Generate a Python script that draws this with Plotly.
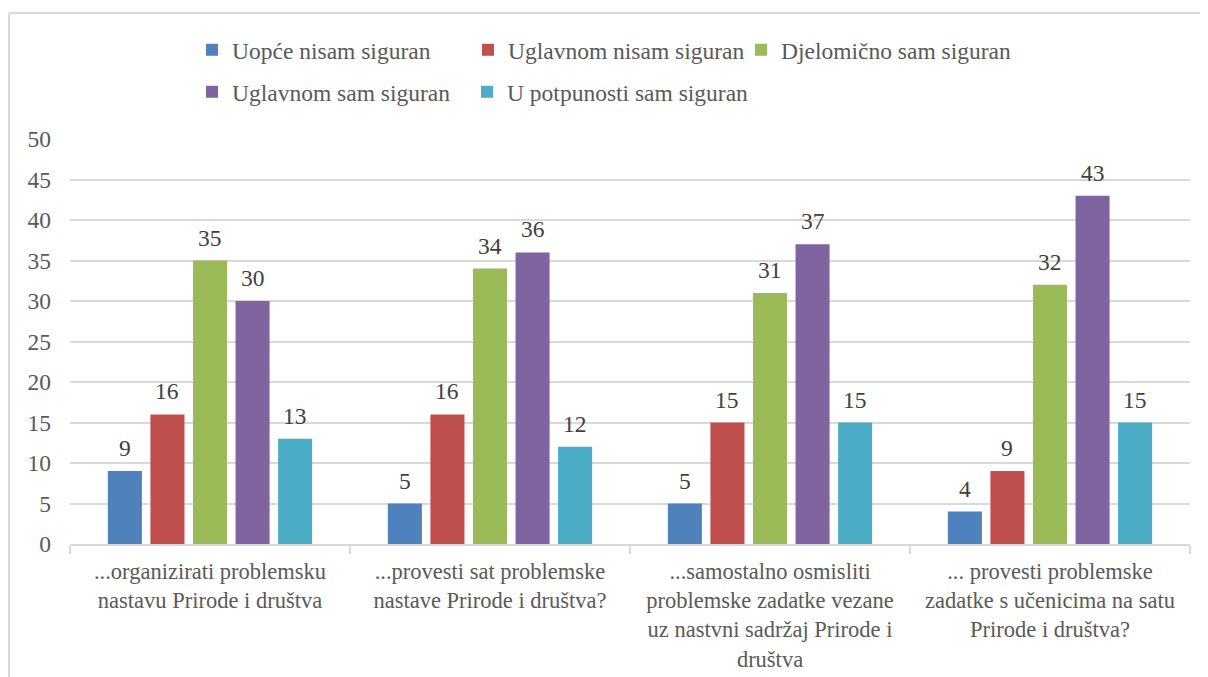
import plotly.graph_objects as go

categories = [
    "...organizirati problemsku<br>nastavu Prirode i društva",
    "...provesti sat problemske<br>nastave Prirode i društva?",
    "...samostalno osmisliti<br>problemske zadatke vezane<br>uz nastvni sadržaj Prirode i<br>društva",
    "... provesti problemske<br>zadatke s učenicima na satu<br>Prirode i društva?",
]
series_names = [
    "Uopće nisam siguran",
    "Uglavnom nisam siguran",
    "Djelomično sam siguran",
    "Uglavnom sam siguran",
    "U potpunosti sam siguran",
]
uopce = [9, 5, 5, 4]
uglavnom_nisam = [16, 16, 15, 9]
djelomicno = [35, 34, 31, 32]
uglavnom_sam = [30, 36, 37, 43]
potpuno = [13, 12, 15, 15]
series_values = [uopce, uglavnom_nisam, djelomicno, uglavnom_sam, potpuno]
colors = ["#4F81BD", "#C0504D", "#9BBB59", "#8064A2", "#4BACC6"]
y_ticks = [0, 5, 10, 15, 20, 25, 30, 35, 40, 45, 50]

FONT = "Liberation Serif"
FS = 23.5
FS_X = 22.5
OFF = 8  # page body margin

W, H = 1208 - OFF, 677 - OFF
L, R, T, B = 70 - OFF, 18, 139 - OFF, 133
pw, ph = W - L - R, H - T - B
BARGAP = 0.24
BARGROUPGAP = 0.2


def px(x):
    return (x - OFF - L) / pw


def py(y):
    return (H - B - (y - OFF)) / ph


# legend slot (page px) for each series: (left x, row centre y)
legend_slots = [(192, 50), (468, 50), (741, 50), (192, 92), (467, 92)]
legend_keys = ["legend", "legend2", "legend3", "legend4", "legend5"]

fig = go.Figure()
pitch = (pw / len(categories)) * (1 - BARGAP) / len(series_names)
annotations = []
for i, (name, vals, col) in enumerate(zip(series_names, series_values, colors)):
    fig.add_trace(go.Bar(
        x=categories, y=vals, name=name,
        marker=dict(color=col, line=dict(width=0)),
        legend=legend_keys[i], showlegend=True,
        hoverinfo="name+y",
    ))
    for c, v in zip(categories, vals):
        annotations.append(dict(
            x=c, y=v, xref="x", yref="y", text=str(v), showarrow=False,
            xshift=(i - (len(series_names) - 1) / 2) * pitch,
            yanchor="middle", yshift=23,
            font=dict(family=FONT, size=FS, color="#404040"),
        ))

legends = {}
for key, (lx, ly) in zip(legend_keys, legend_slots):
    legends[key] = dict(
        x=px(lx), y=py(ly), xanchor="left", yanchor="middle",
        orientation="h", visible=True,
        font=dict(family=FONT, size=FS, color="#595959"),
        bgcolor="rgba(0,0,0,0)",
        itemclick=False, itemdoubleclick=False,
    )

fig.update_layout(
    width=W, height=H, showlegend=True,
    margin=dict(l=L, r=R, t=T, b=B, autoexpand=False),
    paper_bgcolor="white", plot_bgcolor="white",
    barmode="group", bargap=BARGAP, bargroupgap=BARGROUPGAP,
    font=dict(family=FONT, size=FS, color="#595959"),
    annotations=annotations,
    xaxis=dict(
        type="category", showgrid=False, automargin=False,
        showline=True, linecolor="#D9D9D9", linewidth=1.5,
        ticks="outside", tickson="boundaries", ticklen=8,
        tickcolor="#D9D9D9", tickwidth=1.5,
        tickfont=dict(family=FONT, size=FS_X, color="#595959"),
        tickangle=0, ticklabelstandoff=6,
    ),
    yaxis=dict(
        range=[0, 50], tickvals=y_ticks, showgrid=True, automargin=False,
        gridcolor="#D9D9D9", gridwidth=1.5, zeroline=False,
        showline=False, ticks="", ticklabelstandoff=18,
        tickfont=dict(family=FONT, size=FS, color="#595959"),
    ),
    shapes=[
        dict(type="line", xref="paper", yref="paper",
             x0=px(9), x1=px(1260), y0=py(13), y1=py(13),
             line=dict(color="#D9D9D9", width=2)),
        dict(type="line", xref="paper", yref="paper",
             x0=px(9), x1=px(9), y0=py(13), y1=py(720),
             line=dict(color="#D9D9D9", width=2)),
    ],
    **legends,
)

fig.write_html("out.html")
